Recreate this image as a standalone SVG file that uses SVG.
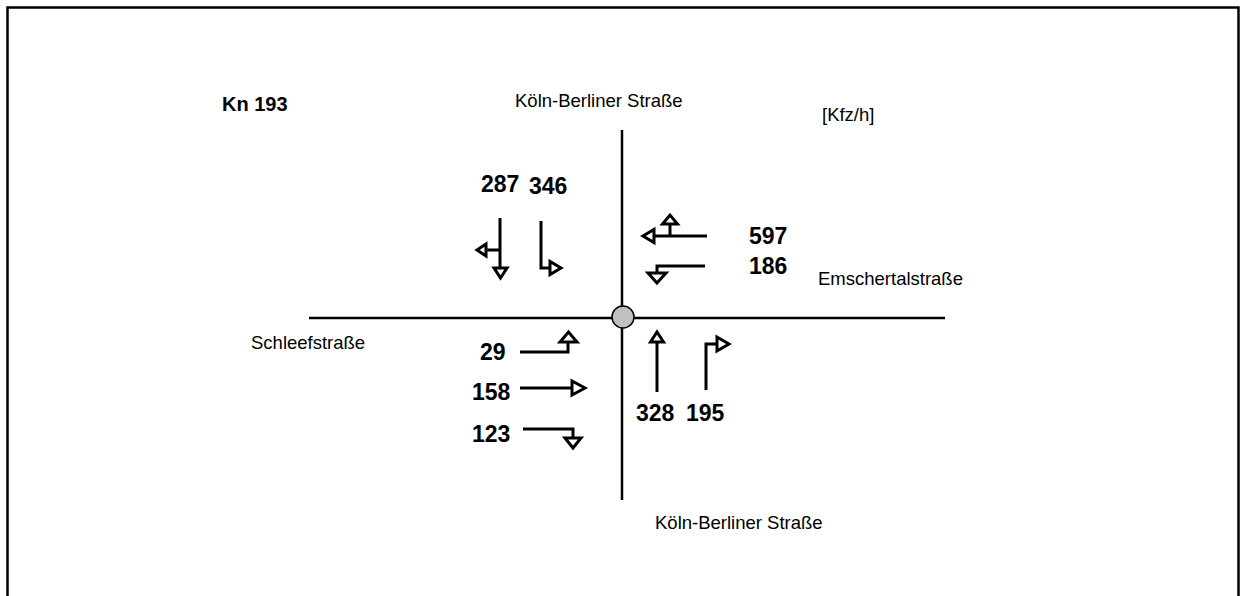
<svg xmlns="http://www.w3.org/2000/svg" width="1242" height="596" viewBox="0 0 1242 596">
<style>
.lbl{font-family:"Liberation Sans",Arial,sans-serif;font-size:18.5px;fill:#000}
.num{font-family:"Liberation Sans",Arial,sans-serif;font-size:23px;font-weight:bold;fill:#000}
.road{stroke:#000;stroke-width:2.5;fill:none}
.arr{stroke:#000;stroke-width:3;fill:none;stroke-linejoin:miter}
.head{stroke:#000;stroke-width:3;fill:#fff;stroke-linejoin:miter}
</style>
<rect width="1242" height="596" fill="#fff"/>
<path d="M7.5,596 V7.5 H1238.5 V596" fill="none" stroke="#000" stroke-width="2.5"/>
<g id="roads">
<line class="road" x1="622" y1="130" x2="622" y2="500"/>
<line class="road" x1="309" y1="318" x2="945" y2="318"/>
</g>
<g id="center"><circle cx="623" cy="317" r="11" fill="#c0c0c0" stroke="#000" stroke-width="1.5"/></g>
<g id="labels">
<text class="num" x="222" y="111" style="font-size:20px">Kn 193</text>
<text class="lbl" x="515" y="107">Köln-Berliner Straße</text>
<text class="lbl" x="822" y="121">[Kfz/h]</text>
<text class="lbl" x="818" y="285">Emschertalstraße</text>
<text class="lbl" x="251" y="349">Schleefstraße</text>
<text class="lbl" x="655" y="529">Köln-Berliner Straße</text>
</g>
<g id="connectors">
<g id="a287"><path class="arr" d="M500,218 V268 M500,250 H486"/>
<polygon class="head" points="477,250 486,244 486,256"/>
<polygon class="head" points="494,268 507,268 500.5,278"/></g>
<g id="a346"><path class="arr" d="M541,221 V268 H550"/>
<polygon class="head" points="550,261.5 550,274.5 561,268"/></g>
<g id="a597"><path class="arr" d="M707,236 H654 M670,236 V224"/>
<polygon class="head" points="643,236 654,229.5 654,242.5"/>
<polygon class="head" points="662.5,224 677.5,224 670,215"/></g>
<g id="a186"><path class="arr" d="M705,266 H657 V273"/>
<polygon class="head" points="648,273 666,273 657,283"/></g>
<g id="a29"><path class="arr" d="M520,352 H568 V342"/>
<polygon class="head" points="560,342 577,342 568.5,332"/></g>
<g id="a158"><path class="arr" d="M520,388 H572"/>
<polygon class="head" points="572,381 572,395 585,388"/></g>
<g id="a123"><path class="arr" d="M523,429 H573 V438"/>
<polygon class="head" points="565,438 581,438 573,448"/></g>
<g id="a328"><path class="arr" d="M657,392 V342"/>
<polygon class="head" points="650.5,342 663.5,342 657,332"/></g>
<g id="a195"><path class="arr" d="M706,390 V344 H717"/>
<polygon class="head" points="717,337 717,351 729,344"/></g>
</g>
<g id="numbers">
<text class="num" x="481" y="192">287</text>
<text class="num" x="529" y="194">346</text>
<text class="num" x="749" y="244">597</text>
<text class="num" x="749" y="274">186</text>
<text class="num" x="480" y="360">29</text>
<text class="num" x="472" y="400">158</text>
<text class="num" x="472" y="442">123</text>
<text class="num" x="636" y="421">328</text>
<text class="num" x="686" y="421">195</text>
</g>
</svg>
